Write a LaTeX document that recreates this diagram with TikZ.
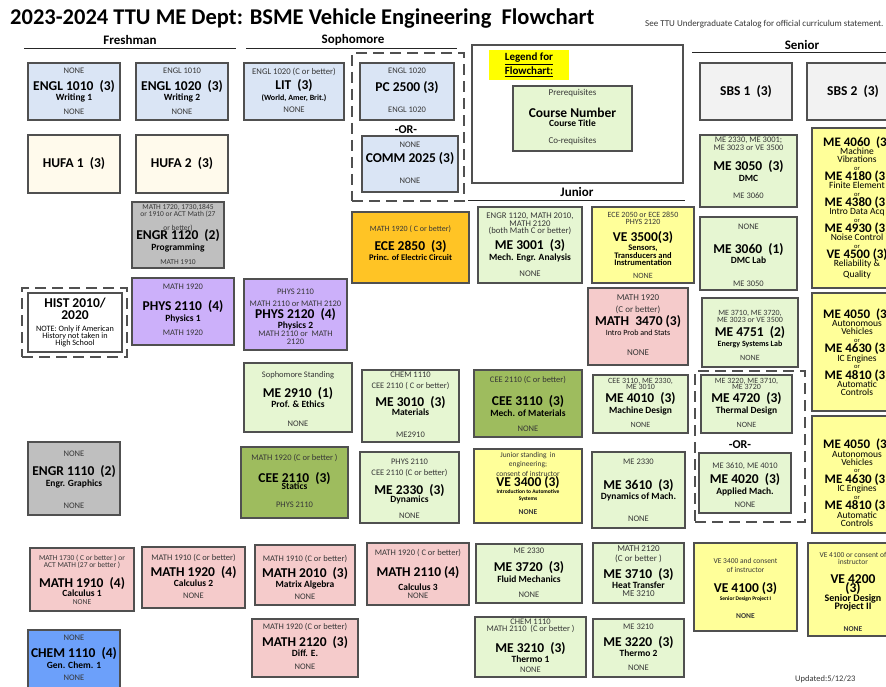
\documentclass[tikz,border=0pt]{standalone}
\usepackage{fontspec}
\setmainfont{Carlito}
\definecolor{cblue}{RGB}{218,229,245}
\definecolor{ccream}{RGB}{255,250,236}
\definecolor{cgray}{RGB}{191,191,191}
\definecolor{clgray}{RGB}{242,242,242}
\definecolor{cpurple}{RGB}{204,176,250}
\definecolor{corange}{RGB}{255,196,37}
\definecolor{cgreen}{RGB}{230,246,210}
\definecolor{colive}{RGB}{158,188,94}
\definecolor{cyellow}{RGB}{255,255,153}
\definecolor{cpink}{RGB}{245,203,203}
\definecolor{cchem}{RGB}{108,160,250}
\definecolor{cborder}{RGB}{80,80,80}
\definecolor{ctext}{RGB}{55,55,55}
\definecolor{hl}{RGB}{255,255,0}
\newcommand\pf[2]{\fontsize{#1}{#2}\selectfont\lineskiplimit=-30pt\relax}
\newcommand\fcN[1]{{\bfseries\fontsize{13.5}{14}\selectfont #1}}
\newcommand\fcS[1]{{\fontsize{8}{8}\selectfont #1}}
\newcommand\fcT[1]{{\bfseries\fontsize{5.5}{6}\selectfont #1}}
\newcommand\fcG[1]{{\bfseries\fontsize{13}{13}\selectfont #1}}
\newcommand\fcO{{\fontsize{6.5}{7}\selectfont or}}
\pgfkeys{
 /fc/.is family,
 /fc/top/.store in=\fcTop,
 /fc/mid/.store in=\fcMid,
 /fc/bot/.store in=\fcBot,
 /fc/fill/.store in=\fcFill,
 /fc/ts/.store in=\fcTs,
 /fc/bs/.store in=\fcBs,
 /fc/ms/.store in=\fcMs,
 /fc/mst/.code={\tikzset{curmid/.style={#1}}},
 /fc/tst/.code={\tikzset{curtop/.style={#1}}},
}
\tikzset{
 cbox/.style={draw=cborder,line width=1.1pt,inner sep=0pt,outer sep=0pt,rectangle},
 dbox/.style={draw=cborder,line width=1.1pt,dash pattern=on 11pt off 6pt,inner sep=0pt,outer sep=0pt,rectangle},
 toptxt/.style={inner sep=0pt,align=center,text=ctext,font={\pf{8.5}{8}}},
 midtxt/.style={inner sep=0pt,align=center,text=black,font={\bfseries\pf{9.5}{10.5}}},
 hdr/.style={inner sep=0pt,font={\bfseries\fontsize{13}{15}\selectfont}},
 hline/.style={line width=1pt,draw=black!85},
 ortxt/.style={inner sep=0pt,font={\bfseries\fontsize{12}{14}\selectfont}},
 curmid/.style={},curtop/.style={}
}
\newcommand\crs[6]{%
 \pgfkeys{/fc/.cd,top={},mid={},bot={},fill=white,ts=5,bs=5,ms=0,mst={},tst={},#6}%
 \node[cbox,fill=\fcFill,minimum width={(#4)-(#2)},minimum height={(#5)-(#3)}] (#1) at ({((#2)+(#4))/2},{((#3)+(#5))/2}) {};
 \node[toptxt,curtop,anchor=north] (#1-t) at ([yshift={-(\fcTs)*1pt}]#1.north) {\fcTop};
 \node[midtxt,curmid] (#1-m) at ([yshift={-(\fcMs)*1pt}]#1.center) {\fcMid};
 \node[toptxt,curtop,anchor=south] (#1-b) at ([yshift={(\fcBs)*1pt}]#1.south) {\fcBot};
}
\newcommand\dbx[5]{%
 \node[dbox,minimum width={(#4)-(#2)},minimum height={(#5)-(#3)}] (#1) at ({((#2)+(#4))/2},{((#3)+(#5))/2}) {};
}
\begin{document}
\begin{tikzpicture}[x=1pt,y=-1pt]
\useasboundingbox (0,0) rectangle (886,687);
\clip (0,0) rectangle (886,687);
\fill[white] (0,0) rectangle (886,687);
% title
\node[anchor=base west,inner sep=0pt,font={\bfseries\fontsize{22.5}{26}\selectfont}] (title) at (10,25) {2023-2024 TTU ME Dept: BSME Vehicle Engineering\ \ Flowchart};
\node[anchor=base west,inner sep=0pt,font={\fontsize{9}{10}\selectfont},text=ctext] (note) at (645,27) {See TTU Undergraduate Catalog for official curriculum statement.};
% headers
\node[hdr] (fresh) at (130,40) {Freshman};
\coordinate (fresh-l) at (24,49); \coordinate (fresh-r) at (236,49);
\draw[hline] (fresh-l) -- (fresh-r);
\node[hdr] (soph) at (353,40) {Sophomore};
\coordinate (soph-l) at (246,49); \coordinate (soph-r) at (457,49);
\draw[hline] (soph-l) -- (soph-r);
\node[hdr] (senior) at (802,45) {Senior};
\coordinate (sen-l) at (692,53); \coordinate (sen-r) at (886,53);
\draw[hline] (sen-l) -- (sen-r);
\node[hdr] (junior) at (577,192) {Junior};
\coordinate (jun-l) at (468,201); \coordinate (jun-r) at (685,201);
\draw[hline] (jun-l) -- (jun-r);
% legend
\node[draw=cborder,line width=2pt,inner sep=0pt,minimum width=211,minimum height=138,fill=white] (legend) at (577.5,114) {};
\node[fill=hl,inner sep=0pt,minimum width=80,minimum height=30,align=center,font={\bfseries\pf{11}{14}}] (legtitle) at (529,65) {\underline{Legend for}\\\underline{Flowchart:}};
\crs{legc}{513}{86}{632}{151}{fill=cgreen,top={Prerequisites},tst={font={\pf{9}{9}}},ts=3,mid={\fcN{Course Number}\\[-1pt]Course Title},ms=-1,bot={Co-requisites},bs=6}
% dashed groups
\dbx{dash1}{352}{53}{464}{201}
\dbx{dash2}{695}{371}{805}{522}
\dbx{dash3}{22}{288}{127}{357}
\node[ortxt] (or1) at (406,130) {-OR-};
\node[ortxt] (or2) at (740,445) {-OR-};
% row 1
\crs{engl1010}{28}{63}{120}{120}{fill=cblue,top={NONE},mid={\fcN{ENGL 1010\ \ (3)}\\Writing 1},bot={NONE}}
\crs{engl1020}{136}{63}{228}{120}{fill=cblue,top={ENGL 1010},mid={\fcN{ENGL 1020\ \ (3)}\\Writing 2},bot={NONE}}
\crs{lit}{244}{63}{344}{120}{fill=cblue,top={ENGL 1020 (C or better)},tst={font={\pf{8.7}{8}}},mid={\fcN{LIT\ \ (3)}\\\fcS{(World, Amer, Brit.)}},ms=-1,bot={NONE},bs=7}
\crs{pc2500}{360}{63}{454}{120}{fill=cblue,top={ENGL 1020},mid={\fcN{PC 2500 (3)}},ms=-4,bot={ENGL 1020},bs=7}
\crs{comm2025}{362}{136}{458}{192}{fill=cblue,top={NONE},ts=6,mid={\fcN{COMM 2025 (3)}},ms=-5,bot={NONE},bs=8}
\crs{sbs1}{700}{63}{792}{120}{fill=clgray,mid={\fcN{SBS 1\ \ (3)}}}
\crs{sbs2}{807}{63}{899}{120}{fill=clgray,mid={\fcN{SBS 2\ \ (3)}}}
% row 2
\crs{hufa1}{28}{135}{120}{193}{fill=ccream,mid={\fcN{HUFA 1\ \ (3)}}}
\crs{hufa2}{136}{135}{228}{193}{fill=ccream,mid={\fcN{HUFA 2\ \ (3)}}}
\crs{me3050}{700}{135}{797}{207}{fill=cgreen,top={ME 2330, ME 3001;\\ME 3023 or VE 3500},ts=2,mid={\fcN{ME 3050\ \ (3)}\\DMC},bot={ME 3060},bs=8}
\crs{g4060}{812}{128}{902}{288}{fill=cyellow,mst={font={\mdseries\pf{9.5}{8}}},mid={\fcG{ME 4060\ \ (3)}\\Machine\\Vibrations\\[-0.5pt]\fcO\\[2.5pt]\fcG{ME 4180 (3)}\\Finite Element\\[-0.5pt]\fcO\\[2.5pt]\fcG{ME 4380 (3)}\\Intro Data Acq\\[-0.5pt]\fcO\\[2.5pt]\fcG{ME 4930 (3)}\\Noise Control\\[-0.5pt]\fcO\\[2.5pt]\fcG{VE 4500 (3)}\\Reliability \&\\[3pt]Quality}}
% row 3
\crs{engr1120}{132}{202}{224}{268}{fill=cgray,top={MATH 1720, 1730,1845\\or 1910 or ACT Math (27\\[7pt]or better)},tst={font={\pf{7.5}{7}}},ts=2,mid={\fcN{ENGR 1120\ \ (2)}\\Programming},ms=6,bot={MATH 1910},bs=3}
\crs{ece2850}{352}{212}{469}{283}{fill=corange,top={MATH 1920 ( C or better)},tst={font={\pf{8}{8}}},ts=13,mid={\fcN{ECE 2850\ \ (3)}\\{\fontsize{8.6}{8}\selectfont Princ. of Electric Circuit}},ms=3}
\crs{me3001}{478}{207}{582}{283}{fill=cgreen,top={ENGR 1120, MATH 2010,\\MATH 2120\\(both Math C or better)},tst={font={\pf{8.7}{7.5}}},ts=6,mid={\fcN{ME 3001\ \ (3)}\\Mech. Engr. Analysis},ms=6,bot={NONE},bs=6}
\crs{ve3500}{592}{207}{694}{283}{fill=cyellow,top={ECE 2050 or ECE 2850\\PHYS 2120},tst={font={\pf{8}{6.5}}},ts=5,mst={font={\bfseries\pf{8.5}{7.5}}},mid={\fcN{VE 3500(3)}\\[2pt]Sensors,\\Transducers and\\Instrumentation},ms=3.5,bot={NONE},bs=4}
\crs{me3060}{700}{217}{797}{290}{fill=cgreen,top={NONE},ts=7,mid={\fcN{ME 3060\ \ (1)}\\DMC Lab},bot={ME 3050},bs=3}
% row 4
\crs{hist}{28}{293}{122}{352}{fill=white,mst={font={\bfseries\pf{8.2}{7}}},mid={\fcN{HIST 2010/}\\[5pt]\fcN{2020}\\[5.5pt]\mdseries NOTE: Only if American\\\mdseries History not taken in\\\mdseries High School}}
\crs{phys2110}{132}{278}{234}{345}{fill=cpurple,top={MATH 1920},ts=6,mid={\fcN{PHYS 2110\ \ (4)}\\Physics 1},bot={MATH 1920},bs=9}
\crs{phys2120}{244}{279}{347}{350}{fill=cpurple,top={PHYS 2110\\[3.5pt]MATH 2110 or MATH 2120},ts=10,mid={\fcN{PHYS 2120\ \ (4)}\\Physics 2},ms=4.5,bot={MATH 2110 or\ \ MATH\\2120},bs=5}
\crs{math3470}{588}{288}{688}{365}{fill=cpink,top={MATH 1920\\[3pt](C or better)},tst={font={\pf{9}{9}}},ts=6,mid={\fcN{MATH\ \ 3470 (3)}\\\mdseries\fcS{Intro Prob and Stats}},ms=-1,bot={NONE},bs=9.5}
\crs{me4751}{702}{298}{798}{367}{fill=cgreen,top={ME 3710, ME 3720,\\ME 3023 or VE 3500},tst={font={\pf{8}{7.5}}},ts=12,mid={\fcN{ME 4751\ \ (2)}\\\fcS{Energy Systems Lab}},ms=4.5,bot={NONE},bs=6}
\crs{g4050a}{812}{293}{902}{411}{fill=cyellow,mst={font={\mdseries\pf{9.5}{8}}},mid={\fcG{ME 4050\ \ (3)}\\[0.5pt]Autonomous\\Vehicles\\[-0.5pt]\fcO\\[2.5pt]\fcG{ME 4630 (3)}\\[0.5pt]IC Engines\\[-0.5pt]\fcO\\[2.5pt]\fcG{ME 4810 (3)}\\[0.5pt]Automatic\\Controls}}
% row 5
\crs{me2910}{244}{363}{352}{432}{fill=cgreen,top={Sophomore Standing},ts=8,mid={\fcN{ME 2910\ \ (1)}\\Prof. \& Ethics},bot={NONE},bs=5}
\crs{me3010}{362}{370}{459}{442}{fill=cgreen,top={CHEM 1110\\[3pt]CEE 2110 ( C or better)},ts=2,mid={\fcN{ME 3010\ \ (3)}\\[-2pt]Materials},bot={ME2910},bs=4}
\crs{cee3110}{474}{370}{582}{437}{fill=colive,top={CEE 2110 (C or better)},ts=6,mid={\fcN{CEE 3110\ \ (3)}\\Mech. of Materials},ms=2.5,bot={NONE},bs=5}
\crs{me4010}{593}{375}{688}{433}{fill=cgreen,top={CEE 3110, ME 2330,\\ME 3010},tst={font={\pf{8}{6}}},ts=3,mid={\fcN{ME 4010\ \ (3)}\\Machine Design},bot={NONE},bs=5}
\crs{me4720}{701}{375}{792}{433}{fill=cgreen,top={ME 3220, ME 3710,\\ME 3720},tst={font={\pf{8}{6}}},ts=3,mid={\fcN{ME 4720\ \ (3)}\\Thermal Design},bot={NONE},bs=5}
% row 6
\crs{engr1110}{28}{442}{120}{515}{fill=cgray,top={NONE},ts=9,mid={\fcN{ENGR 1110\ \ (2)}\\Engr. Graphics},ms=-1.5,bot={NONE},bs=6}
\crs{cee2110}{241}{447}{348}{518}{fill=colive,top={MATH 1920 (C or better )},ts=7,mid={\fcN{CEE 2110\ \ (3)}\\[-3pt]Statics},ms=-1.5,bot={PHYS 2110},bs=10}
\crs{me2330}{360}{452}{459}{523}{fill=cgreen,top={PHYS 2110\\[3pt]CEE 2110 (C or better)},ts=7,mid={\fcN{ME 2330\ \ (3)}\\[-2pt]Dynamics},ms=6.5,bot={NONE},bs=4}
\crs{ve3400}{474}{449}{582}{523}{fill=cyellow,top={Junior standing\ \ in\\[1.5pt]engineering;\\[1.5pt]consent of instructor},tst={font={\pf{7.5}{8}}},ts=3,mid={\fcN{VE 3400 (3)}\\[-4pt]\fcT{Introduction to Automotive}\\[-3pt]\fcT{Systems}},ms=3,bot={\bfseries NONE},bs=8.5}
\crs{me3610}{592}{452}{685}{528}{fill=cgreen,top={ME 2330},ts=7,mid={\fcN{ME 3610\ \ (3)}\\Dynamics of Mach.},bot={NONE},bs=6}
\crs{me4020}{699}{453}{791}{513}{fill=cgreen,top={ME 3610, ME 4010},ts=10,mid={\fcN{ME 4020\ \ (3)}\\Applied Mach.},ms=1.5,bot={NONE},bs=5}
\crs{g4050b}{812}{416}{902}{533}{fill=cyellow,mst={font={\mdseries\pf{9.5}{8}}},ms=8,mid={\fcG{ME 4050\ \ (3)}\\[0.5pt]Autonomous\\Vehicles\\[-0.5pt]\fcO\\[2.5pt]\fcG{ME 4630 (3)}\\[0.5pt]IC Engines\\[-0.5pt]\fcO\\[2.5pt]\fcG{ME 4810 (3)}\\[0.5pt]Automatic\\Controls}}
% row 7
\crs{math1910}{30}{548}{134}{611}{fill=cpink,top={MATH 1730 ( C or better ) or\\ACT MATH (27 or better )},tst={font={\pf{7.5}{6.5}}},ts=7,mid={\fcN{MATH 1910\ \ (4)}\\[-2pt]Calculus 1},ms=7.5,bot={NONE},bs=6}
\crs{math1920}{142}{547}{245}{608}{fill=cpink,top={MATH 1910 (C or better)},ts=7,mid={\fcN{MATH 1920\ \ (4)}\\Calculus 2},ms=-1,bot={NONE},bs=9}
\crs{math2010}{255}{545}{355}{605}{fill=cpink,top={MATH 1910 (C or better)},ts=10,mid={\fcN{MATH 2010\ \ (3)}\\Matrix Algebra},ms=3.5,bot={NONE},bs=5}
\crs{math2110}{367}{543}{469}{605}{fill=cpink,top={MATH 1920 ( C or better)},ts=6,mid={\fcN{MATH 2110 (4)}\\[3pt]Calculus 3},ms=4.5,bot={NONE},bs=6}
\crs{me3720}{476}{544}{582}{603}{fill=cgreen,top={ME 2330},ts=4,mid={\fcN{ME 3720\ \ (3)}\\Fluid Mechanics},ms=-1.5,bot={NONE},bs=5}
\crs{me3710}{593}{543}{684}{603}{fill=cgreen,top={MATH 2120\\[2pt](C or better )},tst={font={\pf{9}{8}}},ts=2,mid={\fcN{ME 3710\ \ (3)}\\[-1pt]Heat Transfer},ms=5.5,bot={ME 3210},bs=6}
\crs{ve4100}{694}{543}{797}{631}{fill=cyellow,top={VE 3400 and consent\\[1pt]of instructor},tst={font={\pf{7.5}{8}}},ts=15,mid={\fcN{VE 4100 (3)}\\[-3pt]\fcT{Senior Design Project I}},ms=5,bot={\bfseries NONE},bs=12}
\crs{ve4200}{808}{543}{898}{636}{fill=cyellow,top={VE 4100 or consent of\\instructor},tst={font={\pf{7.5}{7}}},ts=9,mst={font={\bfseries\pf{10}{8}}},mid={\fcN{VE 4200}\\[1pt]\fcN{(3)}\\[1pt]Senior Design\\Project II},ms=3,bot={\bfseries NONE},bs=4}
% row 8
\crs{chem1110}{28}{630}{120}{690}{fill=cchem,top={NONE},ts=5,mid={\fcN{CHEM 1110\ \ (4)}\\Gen. Chem. 1},ms=-2,bot={NONE},bs=9}
\crs{math2120}{252}{619}{358}{677}{fill=cpink,top={MATH 1920 (C or better)},ts=4,mid={\fcN{MATH 2120\ \ (3)}\\Diff. E.},ms=-1.5,bot={NONE},bs=7}
\crs{me3210}{475}{617}{586}{677}{fill=cgreen,top={CHEM 1110\\[-1pt]MATH 2110\ \ (C or better )},ts=2,mid={\fcN{ME 3210\ \ (3)}\\Thermo 1},ms=5.5,bot={NONE},bs=4}
\crs{me3220}{593}{619}{684}{677}{fill=cgreen,top={ME 3210},ts=5,mid={\fcN{ME 3220\ \ (3)}\\Thermo 2},ms=-1.5,bot={NONE},bs=6}
\node[anchor=base west,inner sep=0pt,font={\fontsize{8.5}{9}\selectfont},text=ctext] (updated) at (795,681) {Updated:5/12/23};
\end{tikzpicture}
\end{document}
